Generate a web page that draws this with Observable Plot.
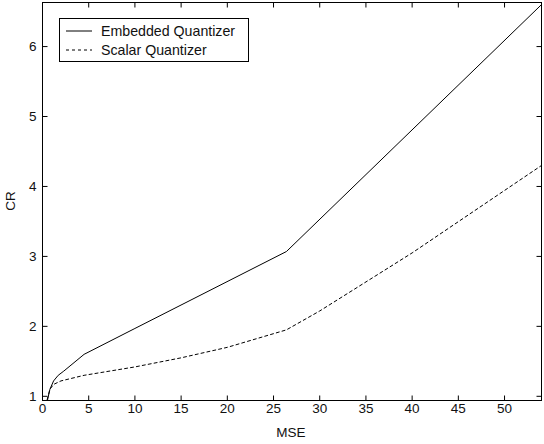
<!DOCTYPE html>
<html>
<head>
<meta charset="utf-8">
<script src="https://cdn.jsdelivr.net/npm/d3@7"></script>
<script src="https://cdn.jsdelivr.net/npm/@observablehq/plot@0.6"></script>
<style>
  html, body { margin: 0; padding: 0; background: #fff; }
  #wrap { position: relative; width: 544px; height: 444px; font-family: "Liberation Sans", Arial, sans-serif; color: #111; }
  #legend { position: absolute; left: 59px; top: 18px; width: 188px; height: 42px; border: 1px solid #000; background: #fff; font-size: 14.2px; }
  #legend .row { position: absolute; left: 6px; height: 18px; display: flex; align-items: center; }
  #legend svg { margin-right: 9px; }
  .alabel { position: absolute; font-size: 13.5px; white-space: nowrap; }
</style>
</head>
<body>
<div id="wrap"></div>
<script>
const seriesNames = ["Embedded Quantizer", "Scalar Quantizer"];
const axisTitles = ["MSE", "CR"];
const embeddedMSE = [0.55, 0.8, 1.2, 1.7, 2.3, 4.5, 10, 26.4, 54];
const embeddedCR  = [0.95, 1.1, 1.22, 1.3, 1.36, 1.6, 1.97, 3.07, 6.6];
const scalarMSE   = [0.5, 0.8, 1.2, 2, 4.5, 10, 15, 20, 26.4, 30, 40, 54];
const scalarCR    = [0.95, 1.1, 1.17, 1.22, 1.3, 1.42, 1.55, 1.7, 1.95, 2.22, 3.05, 4.3];
const xTicks = [0, 5, 10, 15, 20, 25, 30, 35, 40, 45, 50];
const yTicks = [1, 2, 3, 4, 5, 6];

const embedded = embeddedMSE.map((x, i) => ({x, y: embeddedCR[i]}));
const scalar = scalarMSE.map((x, i) => ({x, y: scalarCR[i]}));

const tick = 5;
const xDom = [0, 54], yDom = [0.94, 6.63];
const fh = 444 - 2 - 44, fw = 544 - 42 - 3;
const xTickData = xTicks.map(v => ({v}));
const yTickData = yTicks.map(v => ({v}));
const dyTick = (yDom[1] - yDom[0]) * tick / fh;
const dxTick = (xDom[1] - xDom[0]) * tick / fw;

const plot = Plot.plot({
  width: 544,
  height: 444,
  marginLeft: 42,
  marginRight: 3,
  marginTop: 2,
  marginBottom: 44,
  style: {fontFamily: '"Liberation Sans", Arial, sans-serif', fontSize: "13.5px", color: "#111", background: "#fff"},
  x: {domain: xDom},
  y: {domain: yDom},
  marks: [
    Plot.line(embedded, {x: "x", y: "y", stroke: "#000", strokeWidth: 1}),
    Plot.line(scalar, {x: "x", y: "y", stroke: "#000", strokeWidth: 1, strokeDasharray: "3,3"}),
    Plot.axisX(xTicks, {anchor: "bottom", tickSize: 0, tickPadding: 3, tickFormat: d3.format("d"), label: null}),
    Plot.axisY(yTicks, {anchor: "left", tickSize: 0, tickPadding: 6, tickFormat: d3.format("d"), label: null}),
    Plot.link(xTickData, {x1: "v", x2: "v", y1: () => yDom[0], y2: () => yDom[0] + dyTick, stroke: "#000", strokeWidth: 1}),
    Plot.link(xTickData, {x1: "v", x2: "v", y1: () => yDom[1], y2: () => yDom[1] - dyTick, stroke: "#000", strokeWidth: 1}),
    Plot.link(yTickData, {y1: "v", y2: "v", x1: () => xDom[0], x2: () => xDom[0] + dxTick, stroke: "#000", strokeWidth: 1}),
    Plot.link(yTickData, {y1: "v", y2: "v", x1: () => xDom[1], x2: () => xDom[1] - dxTick, stroke: "#000", strokeWidth: 1}),
    Plot.frame({stroke: "#000"})
  ]
});
const wrap = document.getElementById("wrap");
wrap.appendChild(plot);

const xl = document.createElement("div");
xl.className = "alabel";
xl.textContent = axisTitles[0];
xl.style.left = "291px"; xl.style.top = "425px"; xl.style.transform = "translateX(-50%)";
wrap.appendChild(xl);

const yl = document.createElement("div");
yl.className = "alabel";
yl.textContent = axisTitles[1];
yl.style.left = "10px"; yl.style.top = "201px"; yl.style.transform = "translate(-50%, -50%) rotate(-90deg)";
wrap.appendChild(yl);

const legend = document.createElement("div");
legend.id = "legend";
const dashes = ["none", "3,3"];
seriesNames.forEach((name, i) => {
  const row = document.createElement("div");
  row.className = "row";
  row.style.top = (3 + i * 19) + "px";
  row.innerHTML = `<svg width="26" height="4"><line x1="0" x2="26" y1="2" y2="2" stroke="#000" stroke-width="1" stroke-dasharray="${dashes[i]}"/></svg><span>${name}</span>`;
  legend.appendChild(row);
});
wrap.appendChild(legend);
</script>
</body>
</html>
